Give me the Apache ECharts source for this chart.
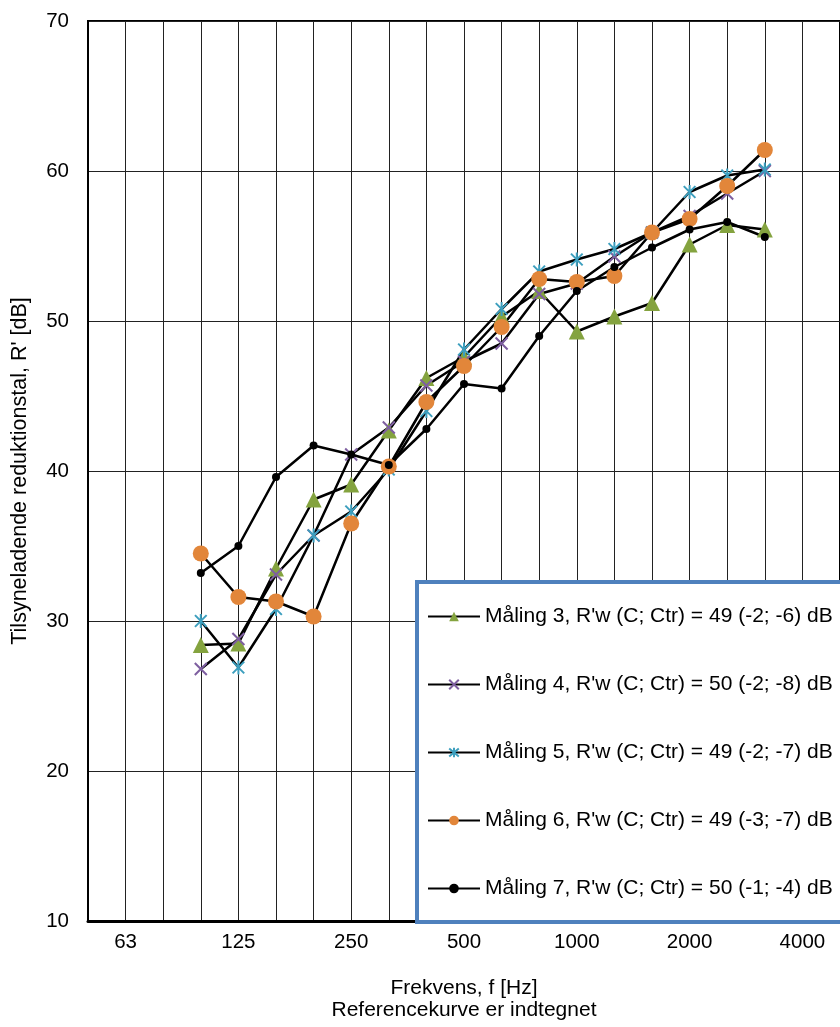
<!DOCTYPE html>
<html>
<head>
<meta charset="utf-8">
<script src="https://cdn.jsdelivr.net/npm/echarts@6/dist/echarts.min.js"></script>
<style>
  html, body { margin: 0; padding: 0; background: #fff; }
  #chart { width: 840px; height: 1027px; }
</style>
</head>
<body>
<div id="chart"></div>
<script>
// Third-octave band centre frequencies [Hz]
const frequencies = ['50', '63', '80', '100', '125', '160', '200', '250', '315', '400',
  '500', '630', '800', '1000', '1250', '1600', '2000', '2500', '3150', '4000', '5000'];

// Apparent sound reduction index R' [dB], 100 Hz - 3150 Hz
const maaling3 = [null, null, null, 28.4, 28.5, 33.5, 38.1, 39.1, 42.7, 46.2, 47.6, 50.3, 52.0, 49.3, 50.3, 51.2, 55.1, 56.4, 56.1, null, null];
const maaling4 = [null, null, null, 26.8, 28.8, 33.1, 35.7, 41.1, 42.9, 45.7, 47.3, 48.5, 51.8, 52.5, 54.3, 55.9, 57.0, 58.5, 60.0, null, null];
const maaling5 = [null, null, null, 30.0, 26.9, 30.8, 35.7, 37.3, 40.1, 44.0, 48.1, 50.8, 53.3, 54.1, 54.8, 55.9, 58.6, 59.7, 60.1, null, null];
const maaling6 = [null, null, null, 34.5, 31.6, 31.3, 30.3, 36.5, 40.3, 44.6, 47.0, 49.6, 52.8, 52.6, 53.0, 55.9, 56.8, 59.0, 61.4, null, null];
const maaling7 = [null, null, null, 33.2, 35.0, 39.6, 41.7, 41.1, 40.4, 42.8, 45.8, 45.5, 49.0, 52.0, 53.6, 54.9, 56.1, 56.6, 55.6, null, null];

const seriesNames = [
  "Måling 3, R'w (C; Ctr) = 49 (-2; -6) dB",
  "Måling 4, R'w (C; Ctr) = 50 (-2; -8) dB",
  "Måling 5, R'w (C; Ctr) = 49 (-2; -7) dB",
  "Måling 6, R'w (C; Ctr) = 49 (-3; -7) dB",
  "Måling 7, R'w (C; Ctr) = 50 (-1; -4) dB"
];

const FONT = 'Liberation Sans, Arial, sans-serif';

function lineSeries(name, data, symbol, size, color, extra) {
  return Object.assign({
    name: name,
    type: 'line',
    data: data,
    symbol: symbol,
    symbolSize: size,
    showAllSymbol: true,
    symbolKeepAspect: true,
    connectNulls: false,
    animation: false,
    lineStyle: { color: '#000', width: 2.5 },
    itemStyle: { color: color, borderColor: color, borderWidth: 0 },
    emphasis: { disabled: true }
  }, extra || {});
}

const chart = echarts.init(document.getElementById('chart'), null, { renderer: 'canvas' });

chart.setOption({
  backgroundColor: '#fff',
  textStyle: { fontFamily: FONT },
  grid: {
    left: 88, top: 21, right: -4, bottom: 106,
    show: true, borderColor: '#000', borderWidth: 2, backgroundColor: 'transparent'
  },
  legend: {
    orient: 'vertical',
    left: 417,
    top: 582,
    padding: [24, 30, 23, 10],
    itemGap: 47,
    itemWidth: 52,
    itemHeight: 12,
    backgroundColor: '#fff',
    borderColor: '#4F81BD',
    borderWidth: 4,
    borderRadius: 0,
    textStyle: { fontSize: 21, color: '#000', fontFamily: FONT },
    data: seriesNames
  },
  xAxis: {
    type: 'category',
    data: frequencies,
    boundaryGap: false,
    axisLine: { show: true, lineStyle: { color: '#000', width: 3 } },
    axisTick: { show: false },
    axisLabel: {
      interval: function (index) { return index % 3 === 1; },
      fontSize: 20.5, color: '#000', margin: 11, fontFamily: FONT
    },
    splitLine: { show: true, interval: 0, lineStyle: { color: '#222', width: 1 } },
    name: 'Frekvens, f [Hz]\nReferencekurve er indtegnet',
    nameLocation: 'middle',
    nameGap: 56,
    nameTextStyle: { fontSize: 21, color: '#000', lineHeight: 22, fontFamily: FONT }
  },
  yAxis: {
    type: 'value',
    min: 10, max: 70, interval: 10,
    axisLine: { show: true, lineStyle: { color: '#000', width: 2 } },
    axisTick: { show: false },
    axisLabel: { fontSize: 20.5, color: '#000', margin: 19, fontFamily: FONT },
    splitLine: { show: true, lineStyle: { color: '#222', width: 1 } },
    name: "Tilsyneladende reduktionstal, R' [dB]",
    nameLocation: 'middle',
    nameRotate: 90,
    nameGap: 57,
    nameTextStyle: { fontSize: 21.5, color: '#000', fontFamily: FONT }
  },
  series: [
    lineSeries(seriesNames[0], maaling3, 'triangle', 16, '#84A33F'),
    lineSeries(seriesNames[1], maaling4, 'path://M0,0L10,10M10,0L0,10', 12, '#7E5FA0',
      { itemStyle: { color: 'none', borderColor: '#7E5FA0', borderWidth: 2 } }),
    lineSeries(seriesNames[2], maaling5, 'path://M0,0L10,10M10,0L0,10M5,-1L5,11', 14, '#3D9FBE',
      { itemStyle: { color: 'none', borderColor: '#3D9FBE', borderWidth: 2 } }),
    lineSeries(seriesNames[3], maaling6, 'circle', 16, '#E2863A'),
    lineSeries(seriesNames[4], maaling7, 'circle', 8, '#000')
  ]
});
</script>
</body>
</html>
